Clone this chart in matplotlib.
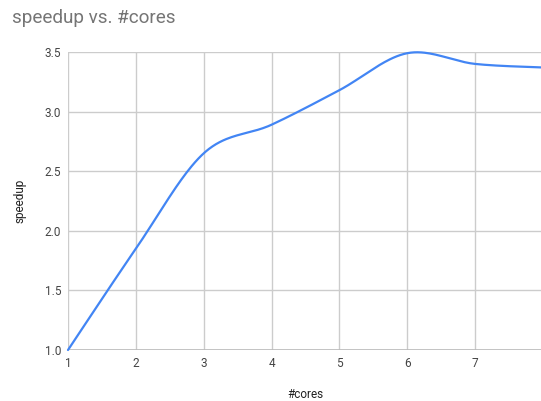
import numpy as np
import matplotlib
matplotlib.use("Agg")
import matplotlib.pyplot as plt

cores = [1, 2, 3, 4, 5, 6, 7, 8]
speedup = [1.00, 1.85, 2.65, 2.89, 3.18, 3.49, 3.40, 3.37]

x_ticks = [1, 2, 3, 4, 5, 6, 7]
y_ticks = [1.0, 1.5, 2.0, 2.5, 3.0, 3.5]

LINE = "#4285F4"
GRID = "#cccccc"


def smooth(xs, ys, n=40, tension=0.5):
    # cardinal spline through the points, the way the sheet draws "smooth" lines
    xs = np.asarray(xs, float)
    ys = np.asarray(ys, float)
    px = np.concatenate([[xs[0]], xs, [xs[-1]]])
    py = np.concatenate([[ys[0]], ys, [ys[-1]]])
    out_x, out_y = [], []
    t = np.linspace(0, 1, n)
    for i in range(1, len(px) - 2):
        mx0 = (px[i + 1] - px[i - 1]) * tension
        my0 = (py[i + 1] - py[i - 1]) * tension
        mx1 = (px[i + 2] - px[i]) * tension
        my1 = (py[i + 2] - py[i]) * tension
        h00 = 2 * t**3 - 3 * t**2 + 1
        h10 = t**3 - 2 * t**2 + t
        h01 = -2 * t**3 + 3 * t**2
        h11 = t**3 - t**2
        out_x.append(h00 * px[i] + h10 * mx0 + h01 * px[i + 1] + h11 * mx1)
        out_y.append(h00 * py[i] + h10 * my0 + h01 * py[i + 1] + h11 * my1)
    return np.concatenate(out_x), np.concatenate(out_y)


plt.rcParams["font.family"] = ["Roboto", "DejaVu Sans"]

fig = plt.figure(figsize=(5.41, 4.01), dpi=100)
ax = fig.add_axes([68 / 541, 51 / 401, 475 / 541, 298 / 401])

sx, sy = smooth(cores, speedup)
ax.plot(sx, sy, color=LINE, lw=1.6, solid_capstyle="round", clip_on=False, zorder=3)

ax.set_xlim(1, 8)
ax.set_ylim(1.0, 3.5)
ax.set_xticks(x_ticks)
ax.set_yticks(y_ticks)
ax.set_yticklabels([f"{v:.1f}" for v in y_ticks])
ax.grid(True, color=GRID, lw=1)
ax.set_axisbelow(True)
for s in ax.spines.values():
    s.set_visible(False)
ax.axhline(1.0, color="#bbbbbb", lw=1.2, zorder=2)
ax.tick_params(length=0, labelsize=8.5, colors="#444444", pad=5)

ax.set_xlabel("#cores", fontsize=8.5, color="#222222", labelpad=13)
ax.set_ylabel("speedup", fontsize=8.5, color="#222222", labelpad=13)

fig.text(12 / 541, 1 - 18 / 401, "speedup vs. #cores", fontsize=13.6,
         color="#757575", va="center", ha="left")

fig.savefig("out.png", dpi=100)
